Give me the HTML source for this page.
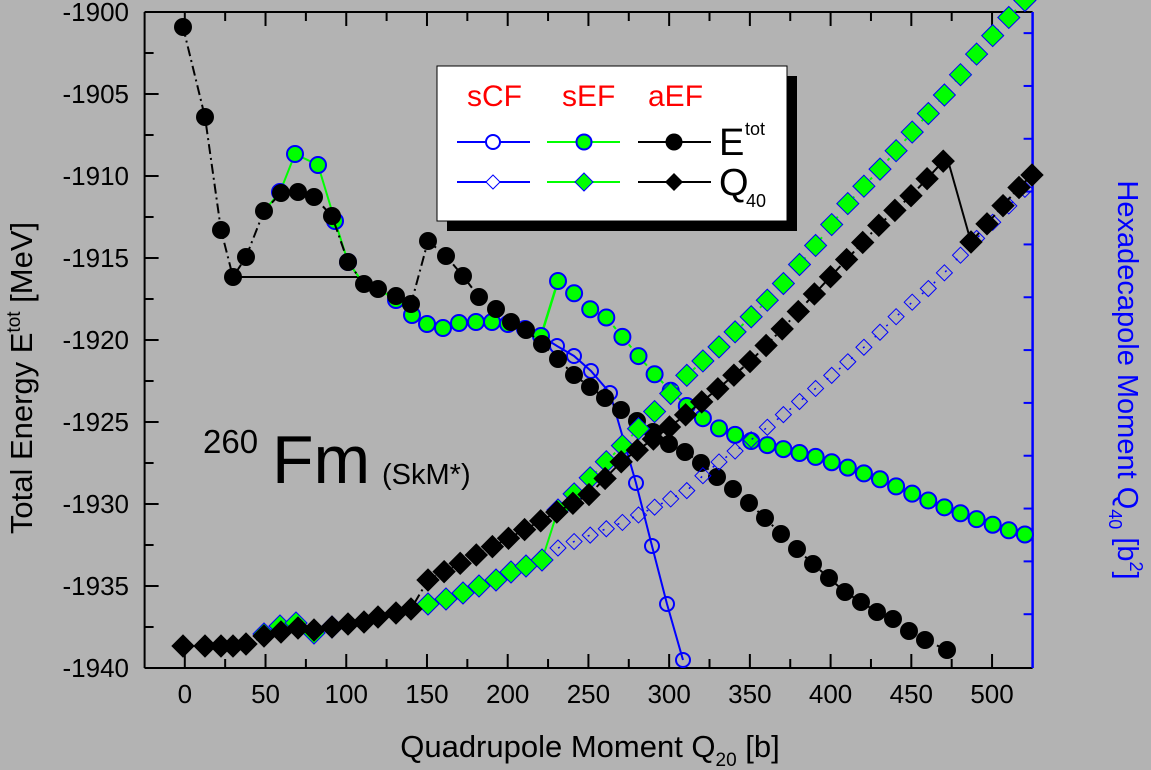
<!DOCTYPE html>
<html><head><meta charset="utf-8"><style>
html,body{margin:0;padding:0;background:#b3b3b3;}
svg{display:block;font-family:"Liberation Sans",sans-serif;}
</style></head><body>
<svg id="s" width="1151" height="770" xmlns="http://www.w3.org/2000/svg">
<rect width="1151" height="770" fill="#b3b3b3"/>
<g id="ax"></g>
<line x1="233" y1="277" x2="364" y2="277" stroke="#000" stroke-width="2"/>
<g id="data"></g>
<rect x="447" y="76" width="350" height="155" fill="#000"/>
<rect x="437" y="66" width="350" height="155" fill="#fff" stroke="#000" stroke-width="1"/>
<g font-size="30" fill="#ff0000">
<text x="467" y="106">sCF</text><text x="562" y="106">sEF</text><text x="648" y="106">aEF</text>
</g>
<g stroke-width="2">
<line x1="457" y1="142" x2="530" y2="142" stroke="#0000ff"/>
<line x1="547" y1="142" x2="620" y2="142" stroke="#00ff00"/>
<line x1="638" y1="142" x2="711" y2="142" stroke="#000"/>
<line x1="457" y1="182" x2="530" y2="182" stroke="#0000ff"/>
<line x1="547" y1="182" x2="620" y2="182" stroke="#00ff00"/>
<line x1="638" y1="182" x2="711" y2="182" stroke="#000"/>
</g>
<circle cx="493" cy="142" r="7" fill="#fff" stroke="#0000ff" stroke-width="2"/>
<circle cx="584" cy="142" r="7.5" fill="#00ff00" stroke="#0000ff" stroke-width="2"/>
<circle cx="674" cy="142" r="8.5" fill="#000"/>
<path d="M493 175 L500 182 L493 189 L486 182Z" fill="#fff" stroke="#0000ff" stroke-width="1"/>
<path d="M584 173 L593 182 L584 191 L575 182Z" fill="#00ff00" stroke="#0000ff" stroke-width="1"/>
<path d="M674 173 L683 182 L674 191 L665 182Z" fill="#000"/>
<text x="719" y="155" font-size="38">E</text><text x="745" y="135" font-size="18">tot</text>
<text x="719" y="195" font-size="38">Q</text><text x="746" y="207" font-size="18">40</text>
<text x="203" y="453" font-size="33" fill="#000">260</text>
<text x="272" y="483" font-size="68" fill="#000">Fm</text>
<text x="382" y="484" font-size="29" fill="#000">(SkM*)</text>
<text x="590" y="757" font-size="31" text-anchor="middle">Quadrupole Moment Q<tspan font-size="19" dy="9">20</tspan><tspan dy="-9"> [b]</tspan></text>
<text transform="translate(32,378) rotate(-90)" font-size="31" text-anchor="middle">Total Energy E<tspan font-size="19" dy="-12">tot</tspan><tspan dy="12"> [MeV]</tspan></text>
<text transform="translate(1118,380) rotate(90)" font-size="29" fill="#0000ff" text-anchor="middle">Hexadecapole Moment Q<tspan font-size="18" dy="9">40</tspan><tspan dy="-9"> [b</tspan><tspan font-size="18" dy="-12">2</tspan><tspan dy="12">]</tspan></text>
</svg>
<script>
var NS="http://www.w3.org/2000/svg";
function el(p,t,a){var e=document.createElementNS(NS,t);for(var k in a)e.setAttribute(k,a[k]);p.appendChild(e);return e;}
var ax=document.getElementById('ax'),D=document.getElementById('data');
var L=144.6,R=1032.6,T=12,B=668;
function X(q){return 184.8+q*1.6145;}
el(ax,'line',{x1:L,y1:T,x2:R,y2:T,stroke:'#000','stroke-width':2});
el(ax,'line',{x1:L,y1:B,x2:R,y2:B,stroke:'#000','stroke-width':2});
el(ax,'line',{x1:L,y1:T,x2:L,y2:B,stroke:'#000','stroke-width':2});
el(ax,'line',{x1:R,y1:T,x2:R,y2:B,stroke:'#0000ff','stroke-width':2.5});
for(var q=-25;q<=525;q+=25){var x=X(q);if(x<L+1||x>R-1)continue;var maj=(q%50==0);
 el(ax,'line',{x1:x,y1:B,x2:x,y2:B-(maj?14:9),stroke:'#000','stroke-width':2});
 el(ax,'line',{x1:x,y1:T,x2:x,y2:T+(maj?14:9),stroke:'#000','stroke-width':2});
 if(maj){var t=el(ax,'text',{x:x,y:703,'font-size':26,'text-anchor':'middle'});t.textContent=q;}}
for(var i=0;i<=16;i++){var y=T+i*41;var maj=(i%2==0);
 el(ax,'line',{x1:L,y1:y,x2:L+(maj?14:9),y2:y,stroke:'#000','stroke-width':2});
 if(maj){var t=el(ax,'text',{x:129,y:y+9,'font-size':26,'text-anchor':'end'});t.textContent=-1900-i/2*5;}}
for(var v=-10;v<=300;v+=25){ if(v<0)continue;var y=T+(300-v)*2.113;var maj=(v%50==0);
 el(ax,'line',{x1:R,y1:y,x2:R-(maj?14:9),y2:y,stroke:'#0000ff','stroke-width':2});
 if(maj){var t=el(ax,'text',{x:1046,y:y+9,'font-size':26,fill:'#0000ff'});t.textContent=v;}}
function interp(an,xs){return xs.map(function(x){for(var i=0;i<an.length-1;i++){if(x>=an[i][0]&&x<=an[i+1][0]){var f=(x-an[i][0])/(an[i+1][0]-an[i][0]);return [x,an[i][1]+f*(an[i+1][1]-an[i][1])];}}return [x,an[an.length-1][1]];});}
function steps(a,b){var r=[];for(var x=a;x<=b+0.1;x+=16.1)r.push(x);return r;}
function line(pts,c,w,dash){el(D,'polyline',{points:pts.map(function(p){return p.join(',')}).join(' '),fill:'none',stroke:c,'stroke-width':w||1.5,'stroke-dasharray':dash||''});}
function circ(pts,f,s,r){pts.forEach(function(p){el(D,'circle',{cx:p[0],cy:p[1],r:r,fill:f,stroke:s,'stroke-width':s=='none'?0:2});});}
function dia(pts,f,s,r){pts.forEach(function(p){var x=p[0],y=p[1];el(D,'path',{d:'M'+x+' '+(y-r)+'L'+(x+r)+' '+y+'L'+x+' '+(y+r)+'L'+(x-r)+' '+y+'Z',fill:f,stroke:s,'stroke-width':1});});}
var bc=[[541,336],[557,346],[574,356],[591,371],[610,393],[636,483],[652,546],[667,604],[683,660]];
line(bc,'#0000ff',2);circ(bc,'none','#0000ff',7);
var g1=[[264,211],[280,192],[295,154],[318,165],[335,221],[348,262],[364,284],[378,289],[396,300],[412,315],[427,324],[443,328],[459,323],[476,322],[492,322],[508,324],[525,329],[541,336]];
var g2=interp([[558,281],[575,294],[593,312],[610,319],[626,342],[642,360],[657,377],[673,393],[689,408],[704,419],[720,429],[751,441],[783,449],[816,457],[849,468],[882,480],[913,494],[946,508],[979,520],[1011,531],[1027,535]],steps(558,1030));
line(g1,'#00ff00',2);line([[541,336],[558,281]],'#00ff00',2.5);line(g2,'#00ff00',2,'4,8');
circ(g1.slice(1,6).concat(g1.slice(8)),'#00ff00','#0000ff',8);circ(g2,'#00ff00','#0000ff',8);
var bk=[[183,27],[205,117],[221,230],[233,277],[246,257],[264,211],[281,193],[298,192],[314,197],[332,216],[348,262],[364,284],[378,289],[396,296],[411,304],[428,241],[446,256],[463,276],[479,297],[496,309],[511,322],[526,330],[542,344],[558,359],[574,375],[590,387],[605,398],[621,410],[637,421],[653,432],[669,444],[685,452],[701,463],[717,477],[733,489],[749,503],[765,518],[781,534],[797,549],[813,564],[829,578],[845,592],[861,602],[877,612],[893,619],[909,631],[925,640],[947,650]];
line(bk,'#000',2,'10,4,2,4');circ(bk,'#000','none',9);
var bo=interp([[558,548],[593,534],[626,521],[657,506],[688,490],[713,466],[747,443],[778,419],[810,393],[842,367],[872,340],[903,310],[936,282],[968,247],[1000,215],[1032,182]],steps(558,1030));
line(bo,'#0000ff',1.5,'2,14');dia(bo,'none','#0000ff',8);
var gd1=[[264,634],[280,626],[296,623],[314,633],[332,627]];
var gd2=[[428,604],[446,599],[463,593],[479,586],[496,580],[511,572],[526,566],[542,560]];
var gd3=interp([[558,510],[593,475],[626,442],[657,409],[688,374],[720,346],[752,316],[783,284],[816,245],[849,202],[882,167],[914,130],[947,92],[979,51],[1011,15],[1030,-5]],steps(558,1030));
line(gd1,'#00ff00',2);line(gd2,'#00ff00',2);line([[542,560],[558,510]],'#00ff00',2);line(gd3,'#00ff00',2,'3,10');
dia(gd1,'#00ff00','#0000ff',11);dia(gd2,'#00ff00','#0000ff',11);dia(gd3,'#00ff00','#0000ff',11);
var bd1=[[183,646],[205,646],[221,646],[233,646],[246,644],[264,636],[281,632],[298,628],[314,630],[332,627],[348,624],[364,622],[378,617],[396,613],[411,609]];
var bd2=interp([[428,580],[511,537],[590,494],[623,460],[655,438],[688,413],[720,387],[753,359],[786,325],[818,290],[849,257],[881,223],[914,193],[947,157]],steps(428,947));
var bd3=interp([[971,242],[1030,175]],[971,987,1003,1019,1032]);
line(bd1.concat(bd2),'#000',2,'10,4,2,4');line([[947,157],[971,242]],'#000',2);line(bd3,'#000',2,'4,4');
dia(bd1,'#000','#000',11);dia(bd2,'#000','#000',11);dia(bd3,'#000','#000',11);
</script>
</body></html>
